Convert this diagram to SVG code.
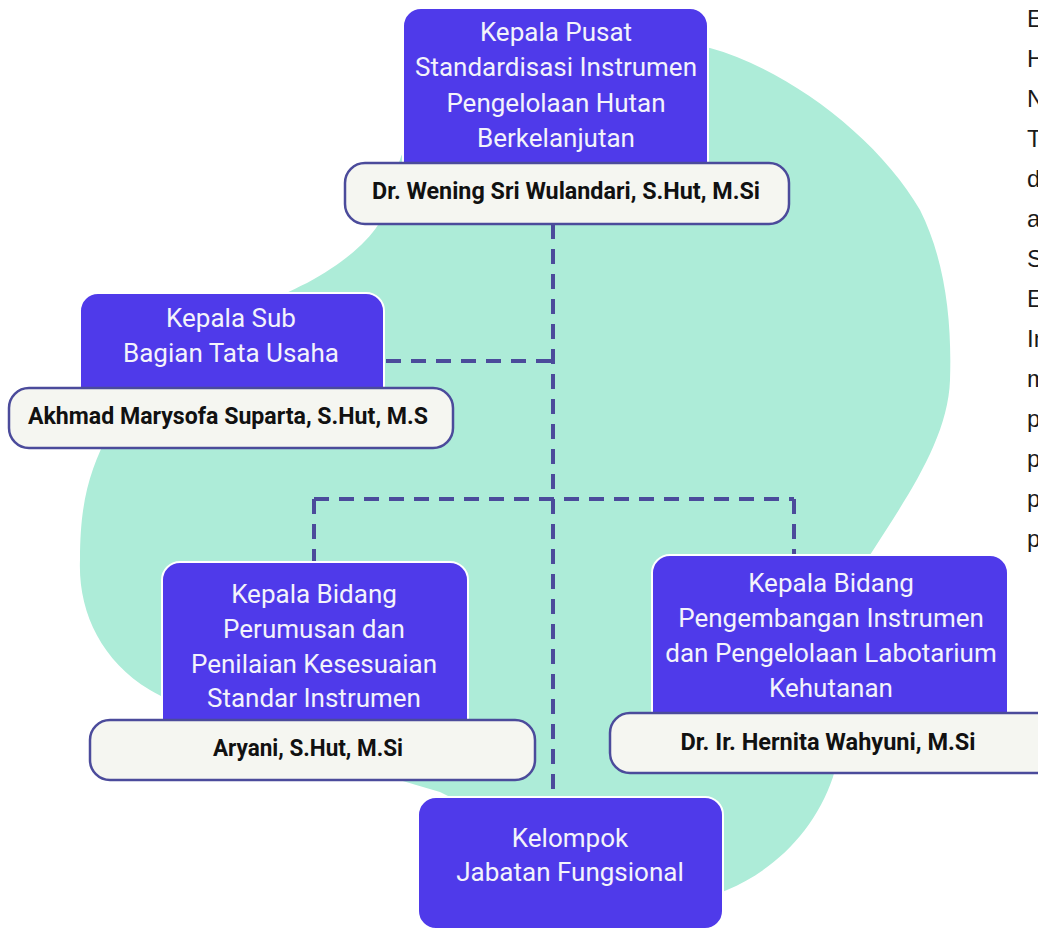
<svg xmlns="http://www.w3.org/2000/svg" width="1038" height="930" viewBox="0 0 1038 930">
<style>
.unit{fill:#4f3aea;stroke:#ffffff;stroke-width:2}
.name{fill:#f5f6f1;stroke:#4b4b9b;stroke-width:2.5}
.t{font-family:Roboto,"Liberation Sans",sans-serif;font-weight:400;font-size:26px;fill:#f3f3fb;text-anchor:middle}
.n{font-family:Roboto,"Liberation Sans",sans-serif;font-weight:700;font-size:24px;fill:#111111;text-anchor:middle}
.side{font-family:"Liberation Sans",Arial,sans-serif;font-size:24px;fill:#1a1a1a}
.c{stroke:#4b4b9b;stroke-width:4;stroke-dasharray:15 10;fill:none}
</style>
<rect width="1038" height="930" fill="#ffffff"/>
<path id="blob" fill="#adecd8" d="M 710,48 C 790,70 880,140 920,210 C 945,260 952,320 950,380 C 948,440 905,500 870,555 C 845,600 850,720 833,777 C 815,830 775,870 727,890 C 640,930 520,830 440,792 C 330,760 200,720 150,690 C 100,660 78,610 80,560 C 80,500 90,470 110,430 C 160,360 250,310 307,283 C 340,265 365,245 378,225 C 390,200 395,170 403,152 C 450,80 620,30 710,48 Z"/>
<g id="connectors">
<line class="c" x1="553" y1="224" x2="553" y2="797"/>
<line class="c" x1="386" y1="361" x2="553" y2="361"/>
<line class="c" x1="314" y1="499" x2="794" y2="499"/>
<line class="c" x1="314" y1="499" x2="314" y2="562"/>
<line class="c" x1="794" y1="499" x2="794" y2="555"/>
</g>
<g id="node-kepala-pusat">
<rect class="unit" x="403" y="8" width="305" height="175" rx="18"/>
<text class="t" x="556" y="41">Kepala Pusat</text>
<text class="t" x="556" y="76">Standardisasi Instrumen</text>
<text class="t" x="556" y="112">Pengelolaan Hutan</text>
<text class="t" x="556" y="147">Berkelanjutan</text>
<rect class="name" x="345" y="163" width="444" height="61" rx="20"/>
<text class="n" x="566" y="199" textLength="388" lengthAdjust="spacingAndGlyphs">Dr. Wening Sri Wulandari, S.Hut, M.Si</text>
</g>
<g id="node-subbag">
<rect class="unit" x="80" y="293" width="304" height="115" rx="18"/>
<text class="t" x="231" y="327">Kepala Sub</text>
<text class="t" x="231" y="362">Bagian Tata Usaha</text>
<rect class="name" x="9" y="388" width="444" height="60" rx="20"/>
<text class="n" x="228" y="424" textLength="400" lengthAdjust="spacingAndGlyphs">Akhmad Marysofa Suparta, S.Hut, M.S</text>
</g>
<g id="node-bidang-perumusan">
<rect class="unit" x="162" y="562" width="306" height="175" rx="18"/>
<text class="t" x="314" y="603">Kepala Bidang</text>
<text class="t" x="314" y="638">Perumusan dan</text>
<text class="t" x="314" y="673">Penilaian Kesesuaian</text>
<text class="t" x="314" y="707">Standar Instrumen</text>
<rect class="name" x="90" y="720" width="445" height="60" rx="20"/>
<text class="n" x="308" y="756" textLength="190" lengthAdjust="spacingAndGlyphs">Aryani, S.Hut, M.Si</text>
</g>
<g id="node-bidang-pengembangan">
<rect class="unit" x="652" y="555" width="356" height="175" rx="18"/>
<text class="t" x="831" y="592">Kepala Bidang</text>
<text class="t" x="831" y="627">Pengembangan Instrumen</text>
<text class="t" x="831" y="662">dan Pengelolaan Labotarium</text>
<text class="t" x="831" y="697">Kehutanan</text>
<rect class="name" x="610" y="713" width="450" height="60" rx="20"/>
<text class="n" x="828" y="750" textLength="295" lengthAdjust="spacingAndGlyphs">Dr. Ir. Hernita Wahyuni, M.Si</text>
</g>
<g id="node-kelompok">
<rect class="unit" x="418" y="797" width="305" height="132" rx="18"/>
<text class="t" x="570" y="847">Kelompok</text>
<text class="t" x="570" y="881">Jabatan Fungsional</text>
</g>
<g id="side-text">
<text class="side" x="1027" y="27">E</text>
<text class="side" x="1027" y="67">H</text>
<text class="side" x="1027" y="107">N</text>
<text class="side" x="1027" y="147">T</text>
<text class="side" x="1027" y="187">d</text>
<text class="side" x="1027" y="227">a</text>
<text class="side" x="1027" y="267">S</text>
<text class="side" x="1027" y="307">E</text>
<text class="side" x="1027" y="347">In</text>
<text class="side" x="1027" y="387">m</text>
<text class="side" x="1027" y="427">p</text>
<text class="side" x="1027" y="467">p</text>
<text class="side" x="1027" y="507">p</text>
<text class="side" x="1027" y="547">p</text>
</g>
</svg>
